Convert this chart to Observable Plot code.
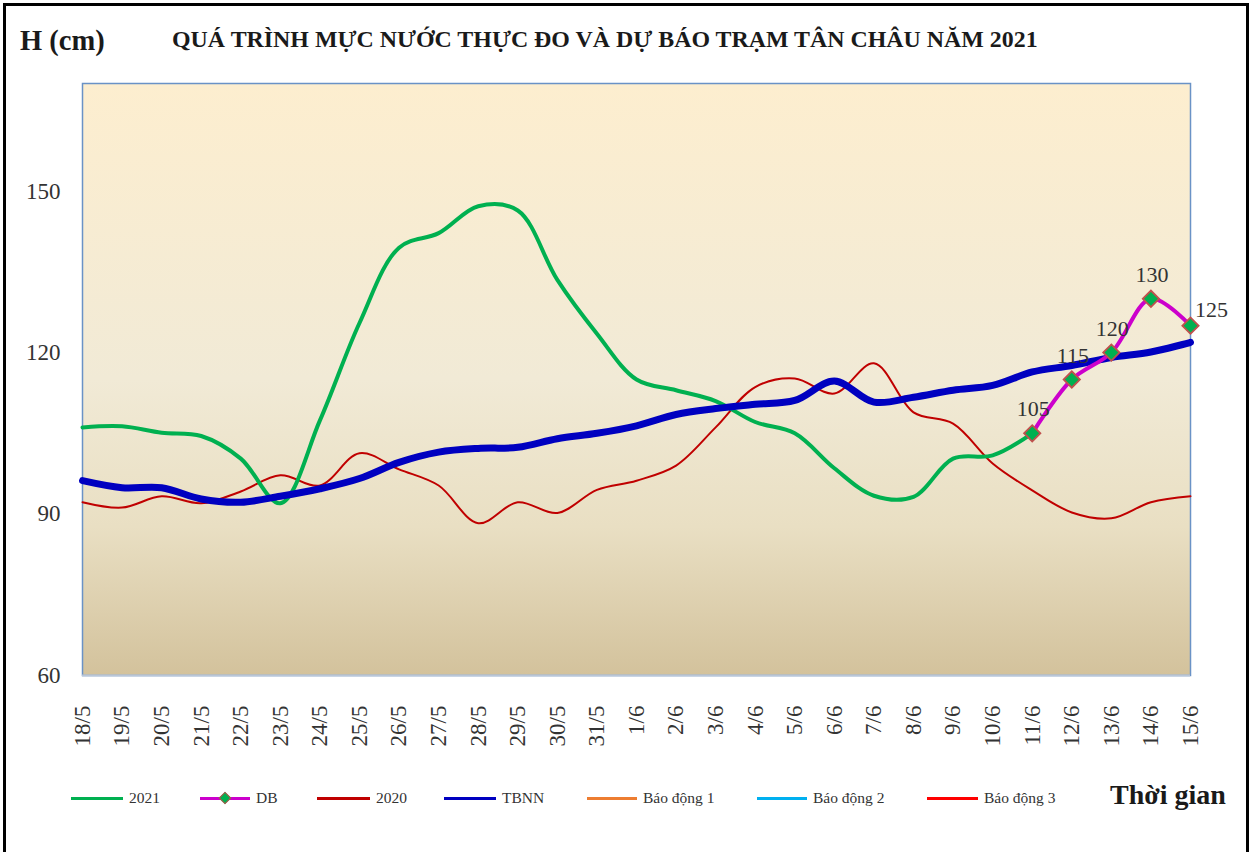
<!DOCTYPE html>
<html><head><meta charset="utf-8">
<script src="https://cdn.jsdelivr.net/npm/d3@7"></script>
<script src="https://cdn.jsdelivr.net/npm/@observablehq/plot@0.6"></script>
<style>
body{margin:0;background:#fff;font-family:"Liberation Serif","Times New Roman",serif;}
#wrap{position:relative;width:1253px;height:852px;overflow:hidden;}
#frame{position:absolute;left:3px;top:3px;width:1246px;height:900px;border:3px solid #000;box-sizing:border-box;}
#ylab{position:absolute;left:20px;top:25px;font-weight:bold;font-size:28.5px;color:#1a1a1a;white-space:nowrap}
#title{position:absolute;left:172px;top:26px;font-weight:bold;font-size:23.9px;color:#1a1a1a;white-space:nowrap}
#xlab{position:absolute;left:1110px;top:779px;font-weight:bold;font-size:28px;color:#1a1a1a;white-space:nowrap}
.leg{position:absolute;top:788px;height:20px;display:flex;align-items:center;font-size:15.5px;color:#333;white-space:nowrap}
.leg .sw{position:relative;height:3px;margin-right:6px}
.leg .mk{position:absolute;left:50%;top:50%;width:7px;height:7px;background:#00b050;border:1px solid #c0504d;transform:translate(-50%,-50%) rotate(45deg)}
#chart{position:absolute;left:0;top:0}
</style></head>
<body>
<div id="wrap">
  <div id="chart"></div>
  <div id="frame"></div>
  <div id="ylab">H (cm)</div>
  <div id="title">QUÁ TRÌNH MỰC NƯỚC THỰC ĐO VÀ DỰ BÁO TRẠM TÂN CHÂU NĂM 2021</div>
  <div id="xlab">Thời gian</div>
</div>
<script>
// ---- data ----
const dates = ["18/5","19/5","20/5","21/5","22/5","23/5","24/5","25/5","26/5","27/5","28/5","29/5","30/5","31/5","1/6","2/6","3/6","4/6","5/6","6/6","7/6","8/6","9/6","10/6","11/6","12/6","13/6","14/6","15/6"];
const h2021 = [106.1,106.3,105.1,104.5,100.3,92.0,107.4,125.5,139.5,142.2,147.2,146.4,133.5,123.5,115.0,113.0,111.0,107.1,105.0,98.5,93.4,93.2,100.3,100.9,105];
const hDB = [105,115,120,130,125];
const h2020 = [92.2,91.2,93.3,92.0,94.2,97.2,95.3,101.3,98.3,95.3,88.3,92.2,90.2,94.5,96.2,99.0,106.1,113.6,115.2,112.4,118.0,108.9,106.8,99.4,94.4,90.3,89.2,92.2,93.3];
const hTBNN = [96.2,94.9,94.9,92.8,92.2,93.3,94.7,96.6,99.6,101.5,102.2,102.4,104.0,105.0,106.4,108.5,109.6,110.4,111.1,114.7,110.8,111.7,113.0,113.9,116.4,117.6,119.1,120.1,121.9];
const yTicks = [60, 90, 120, 150];
const legendNames = ["2021","DB","2020","TBNN","Báo động 1","Báo động 2","Báo động 3"];
const legendColors = ["#00b050","#cc00cc","#c00000","#0000c0","#ed7d31","#00b0f0","#ff0000"];

// ---- build rows ----
const rows2021 = h2021.map((v,i)=>({d:dates[i], v}));
const dbDates = dates.slice(dates.length - hDB.length);
const rowsDB = hDB.map((v,i)=>({d:dbDates[i], v, i}));
const rows2020 = h2020.map((v,i)=>({d:dates[i], v}));
const rowsTB = hTBNN.map((v,i)=>({d:dates[i], v}));

function background(index, scales, values, dim) {
  const {width, height, marginTop, marginRight, marginBottom, marginLeft} = dim;
  const g = d3.create("svg:g");
  const lg = g.append("defs").append("linearGradient").attr("id","bgGrad")
    .attr("x1",0).attr("y1",0).attr("x2",0).attr("y2",1);
  [[0,"#fdeecf"],[0.5,"#f1ead6"],[0.75,"#e9dfc3"],[1,"#d3c29c"]].forEach(([o,c])=>
    lg.append("stop").attr("offset",o).attr("stop-color",c));
  g.append("rect").attr("x",marginLeft).attr("y",marginTop)
    .attr("width",width-marginLeft-marginRight).attr("height",height-marginTop-marginBottom)
    .attr("fill","url(#bgGrad)");
  return g.node();
}

const chart = Plot.plot({
  width: 1253, height: 852,
  marginLeft: 82, marginRight: 63, marginTop: 83, marginBottom: 177,
  style: {fontFamily: "'Liberation Serif','Times New Roman',serif", fontSize: "23px", color: "#333", background: "transparent"},
  x: {type: "point", domain: dates, padding: 0, round: false, label: null, tickRotate: -90, tickSize: 0, tickPadding: 30},
  y: {domain: [60, 170], ticks: yTicks, label: null, tickSize: 0, tickPadding: 22},
  marks: [
    background,
    Plot.frame({stroke: "#6a92c6", strokeWidth: 1.5}),
    Plot.ruleY([60], {stroke: "#b9c6d8", strokeWidth: 2}),
    Plot.line(rows2020, {x:"d", y:"v", stroke:"#c00000", strokeWidth:2, curve:"catmull-rom"}),
    Plot.line(rows2021, {x:"d", y:"v", stroke:"#00b050", strokeWidth:4, curve:"catmull-rom"}),
    Plot.line(rowsTB, {x:"d", y:"v", stroke:"#0000c0", strokeWidth:7, curve:"catmull-rom"}),
    Plot.line(rowsDB, {x:"d", y:"v", stroke:"#cc00cc", strokeWidth:4, curve:"catmull-rom"}),
    Plot.dot(rowsDB, {x:"d", y:"v", symbol:"square", rotate:45, r:6.5, fill:"#00b050", stroke:"#c0504d", strokeWidth:1.8}),
    Plot.text(rowsDB.slice(0, -1), {x:"d", y:"v", text:d=>String(d.v), dy:-24, dx:1, fontSize:22, fill:"#333"}),
    Plot.text(rowsDB.slice(-1), {x:"d", y:"v", text:d=>String(d.v), dy:-16, dx:21, fontSize:22, fill:"#333"})
  ]
});
document.getElementById("chart").appendChild(chart);

// ---- legend ----
const legendLeft = [71, 200, 317, 444, 587, 757, 927];
const lineLen = [52, 50, 53, 52, 50, 50, 51];
const wrap = document.getElementById("wrap");
legendNames.forEach((n,i)=>{
  const el = document.createElement("div");
  el.className = "leg";
  el.style.left = legendLeft[i] + "px";
  const sw = document.createElement("div");
  sw.className = "sw";
  sw.style.width = lineLen[i] + "px";
  sw.style.background = legendColors[i];
  if (n === "DB") { const mk = document.createElement("div"); mk.className = "mk"; sw.appendChild(mk); }
  el.appendChild(sw);
  const t = document.createElement("span");
  t.textContent = n;
  el.appendChild(t);
  wrap.appendChild(el);
});
</script>
</body></html>
